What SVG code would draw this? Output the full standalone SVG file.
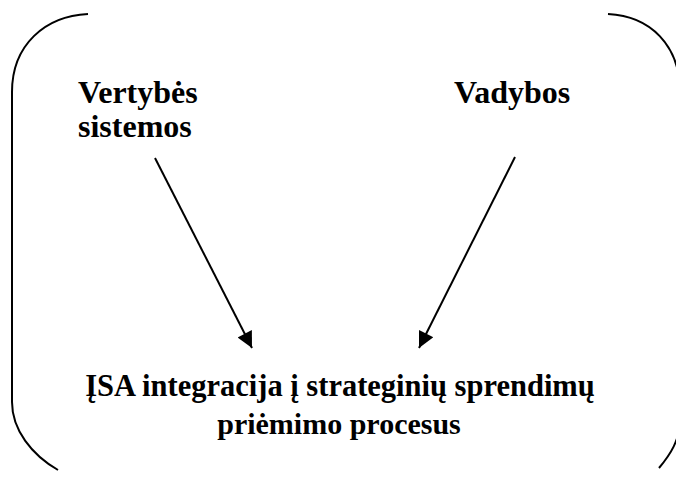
<svg xmlns="http://www.w3.org/2000/svg" width="676" height="477" viewBox="0 0 676 477">
<style>
.frame{fill:none;stroke:#000;stroke-width:2}
.conn{fill:none;stroke:#000;stroke-width:2}
text{font-family:'Liberation Serif','Times New Roman',serif;font-weight:700;fill:#000}
</style>
<defs>
<marker id="ah" viewBox="0 0 10 10" refX="10" refY="5" markerWidth="9" markerHeight="8" markerUnits="strokeWidth" orient="auto">
<path d="M0,0 L10,5 L0,10 Z" fill="#000"/>
</marker>
</defs>
<rect width="676" height="477" fill="#fff"/>
<g id="frame">
<path class="frame" d="M88,14 C45,16 12,45 12,92 L12,402 C12,430 32,455 58,470"/>
<path class="frame" d="M608,14 C650,16 680,45 680,92 L680,420 C680,440 670,455 659,468"/>
</g>
<g id="node-vertybes">
<text x="78" y="103" font-size="32">Vertybės</text>
<text x="78" y="137" font-size="32">sistemos</text>
</g>
<g id="node-vadybos">
<text x="454" y="103" font-size="32">Vadybos</text>
</g>
<g id="node-isa">
<text x="340" y="396" font-size="30.5" text-anchor="middle">ĮSA integracija į strateginių sprendimų</text>
<text x="339" y="434" font-size="30" text-anchor="middle">priėmimo procesus</text>
</g>
<g id="connectors">
<line class="conn" x1="155" y1="158" x2="252" y2="348" marker-end="url(#ah)"/>
<line class="conn" x1="515" y1="157" x2="419" y2="348" marker-end="url(#ah)"/>
</g>
</svg>
